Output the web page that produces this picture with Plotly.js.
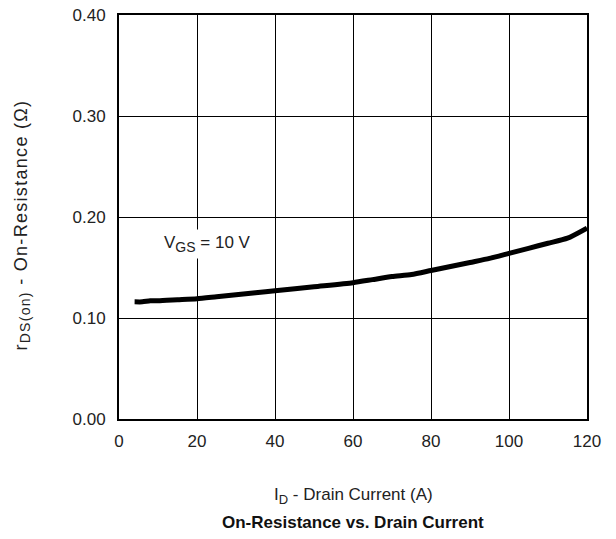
<!DOCTYPE html>
<html><head><meta charset="utf-8">
<script src="https://cdn.plot.ly/plotly-3.0.1.min.js"></script>
<style>body{margin:0;background:#fff}#c{width:616px;height:539px}</style>
</head><body><div id="c"></div>
<script>
const drainCurrent = [4, 6, 8, 10, 15, 20, 25, 30, 35, 40, 50, 60, 65, 70, 75, 80, 85, 90, 95, 100, 105, 110, 115, 120];
const onResistance = [0.116, 0.116, 0.117, 0.117, 0.118, 0.119, 0.121, 0.123, 0.125, 0.127, 0.131, 0.135, 0.138, 0.141, 0.143, 0.147, 0.151, 0.155, 0.159, 0.164, 0.169, 0.174, 0.179, 0.189];
const xTicks = [0, 20, 40, 60, 80, 100, 120];
const yTicks = [0, 0.1, 0.2, 0.3, 0.4];
const curveLabel = 'V<sub><span style="font-size:14px">GS</span></sub> = 10 V';
const xTitle = 'I<sub><span style="font-size:13px">D</span></sub> - Drain Current (A)';
const yTitle = '<span style="letter-spacing:1.3px">r<sub><span style="font-size:14px">DS(on)</span></sub> - On-Resistance (Ω)</span>';
const chartTitle = '<b>On-Resistance vs. Drain Current</b>';

const font = "Liberation Sans, Arial, sans-serif";
const txt = '#222';
Plotly.newPlot('c', [{
  x: drainCurrent, y: onResistance, mode: 'lines', type: 'scatter',
  line: {color: '#000', width: 5, shape: 'spline', smoothing: 0.6}, hoverinfo: 'none'
}], {
  width: 616, height: 539,
  margin: {l: 119, r: 29, t: 15, b: 120},
  paper_bgcolor: '#fff', plot_bgcolor: '#fff',
  showlegend: false,
  font: {family: font, size: 17, color: txt},
  xaxis: {range: [0, 120], tickvals: xTicks, ticktext: xTicks.map(String),
    showgrid: true, gridcolor: '#000', gridwidth: 1, zeroline: false,
    showline: true, linecolor: '#000', linewidth: 2, mirror: true, ticks: '',
    ticklabelstandoff: 6,
    tickfont: {size: 17, family: font, color: txt}},
  yaxis: {range: [0, 0.4], tickvals: yTicks, tickformat: '.2f',
    showgrid: true, gridcolor: '#000', gridwidth: 1, zeroline: false,
    showline: true, linecolor: '#000', linewidth: 2, mirror: true, ticks: '',
    ticklabelstandoff: 8,
    tickfont: {size: 17, family: font, color: txt}},
  annotations: [
    {x: 22.6, y: 0.173, xref: 'x', yref: 'y', text: curveLabel, showarrow: false,
     font: {size: 17, family: font, color: txt}, bgcolor: '#fff', borderpad: 3},
    {x: -0.207, y: 0.479, xref: 'paper', yref: 'paper', text: yTitle, showarrow: false,
     textangle: -90, xanchor: 'center', yanchor: 'middle',
     font: {size: 18, family: font, color: txt}},
    {x: 0.5, y: -0.19, xref: 'paper', yref: 'paper', text: xTitle, showarrow: false,
     font: {size: 17, family: font, color: txt}, yanchor: 'middle'},
    {x: 0.5, y: -0.255, xref: 'paper', yref: 'paper', text: chartTitle, showarrow: false,
     font: {size: 17, family: font, color: '#111'}, yanchor: 'middle'}
  ]
}, {staticPlot: true});
</script></body></html>
